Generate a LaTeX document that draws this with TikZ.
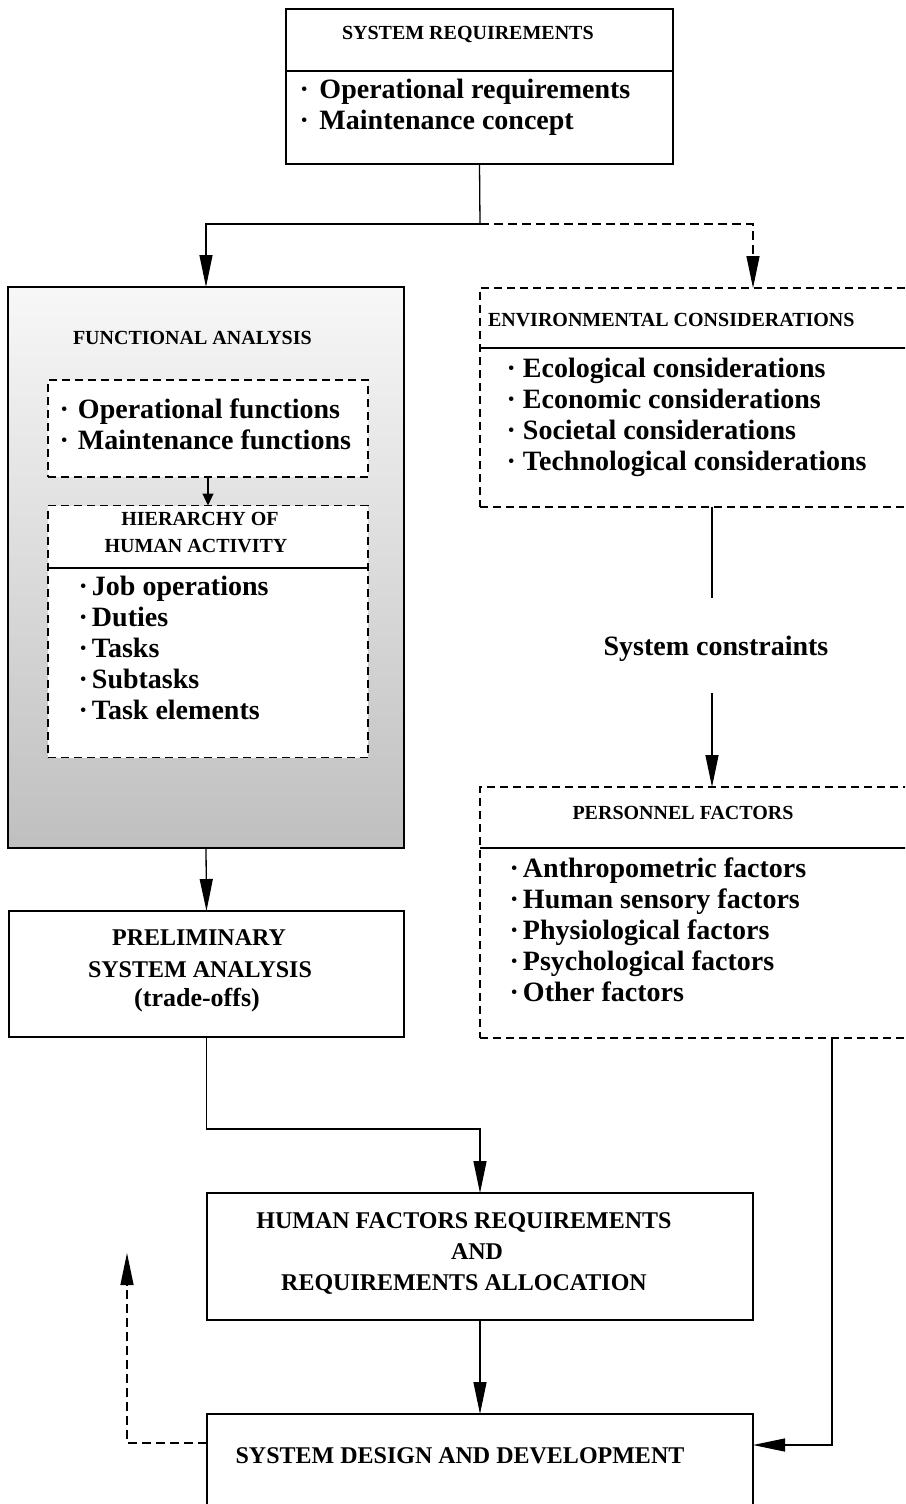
\documentclass[tikz,border=0pt]{standalone}
\usepackage{fontspec}
\setmainfont{Liberation Serif}
\usetikzlibrary{arrows.meta}
% bullet with a fixed advance before the item text
\newcommand\bul[1]{\makebox[#1pt][l]{·}}
\begin{document}
\begin{tikzpicture}[x=1pt,y=-1pt,
  box/.style={draw, line width=1.3pt, inner sep=0pt, outer sep=0pt},
  dbox/.style={draw, line width=1.2pt, dash pattern=on 8pt off 5pt, inner sep=0pt, outer sep=0pt},
  txt/.style={inner sep=0pt, outer sep=0pt, font=\bfseries\fontsize{28}{31}\selectfont},
  head/.style={inner sep=0pt, outer sep=0pt, font=\bfseries\fontsize{20}{24}\selectfont},
  big/.style={inner sep=0pt, outer sep=0pt, font=\bfseries\fontsize{24}{30}\selectfont},
  conn/.style={line width=1.3pt},
  arr/.style={conn, -{Triangle[length=32pt,width=13pt]}},
  sarr/.style={conn, -{Triangle[length=12pt,width=11pt]}},
  darr/.style={arr, dash pattern=on 9pt off 5pt},
]
\fill[white] (0,0) rectangle (905,1504);
\path[use as bounding box, clip] (0,0) rectangle (905,1504);

% ---------- system requirements ----------
\node[box, minimum width=387pt, minimum height=155pt] (sysreq) at (479.5,86.5) {};
\draw[conn] (sysreq.west |- 0,71) -- (sysreq.east |- 0,71);
\node[head, anchor=base west] (sysreqT) at (342,40) {SYSTEM REQUIREMENTS};
\node[txt, anchor=base west] (sysreq1) at (299.5,99) {\bul{20}Operational requirements};
\node[txt, anchor=base west] (sysreq2) at (299.5,129) {\bul{20}Maintenance concept};

% ---------- functional analysis ----------
\node[box, minimum width=396pt, minimum height=561pt,
      top color=white!97!black, middle color=black!16, bottom color=black!25] (fa) at (206,567.5) {};
\node[head, anchor=base west] (faT) at (73,344) {FUNCTIONAL ANALYSIS};

\node[dbox, fill=white, minimum width=320pt, minimum height=97pt] (fa1) at (208,428.5) {};
\node[txt, anchor=base west] (fa1a) at (59.5,418) {\bul{18.5}Operational functions};
\node[txt, anchor=base west] (fa1b) at (59.5,449) {\bul{18.5}Maintenance functions};

\node[dbox, fill=white, minimum width=320pt, minimum height=252pt] (fa2) at (208,631.5) {};
\node[head, anchor=base] (fa2T1) at (200,525) {HIERARCHY OF};
\node[head, anchor=base] (fa2T2) at (196,552) {HUMAN ACTIVITY};
\draw[conn, line width=1.2pt] (fa2.west |- 0,568) -- (fa2.east |- 0,568);
\foreach \t [count=\i from 0] in {Job operations, Duties, Tasks, Subtasks, Task elements}
  \node[txt, anchor=base west] (hier\i) at (78.5,595+31*\i) {\bul{13.5}\t};

\draw[sarr] (fa1.south) -- (fa2.north);

% ---------- preliminary system analysis ----------
\node[box, minimum width=395pt, minimum height=126pt] (prelim) at (206.5,974) {};
\node[big, anchor=base] (prelim1) at (199,945) {PRELIMINARY};
\node[big, anchor=base] (prelim2) at (200,977) {SYSTEM ANALYSIS};
\node[inner sep=0pt, font=\bfseries\fontsize{26}{30}\selectfont, anchor=base] (prelim3) at (197,1006) {(trade-offs)};

% ---------- human factors requirements ----------
\node[box, minimum width=546pt, minimum height=127pt] (hfr) at (480,1256.5) {};
\node[big, anchor=base] (hfr1) at (464,1228) {HUMAN FACTORS REQUIREMENTS};
\node[big, anchor=base] (hfr2) at (477,1259) {AND};
\node[big, anchor=base] (hfr3) at (464,1290) {REQUIREMENTS ALLOCATION};

% ---------- system design and development ----------
\node[box, minimum width=546pt, minimum height=180pt] (sdd) at (480,1504) {};
\node[big, anchor=base] (sddT) at (460,1463) {SYSTEM DESIGN AND DEVELOPMENT};

% ---------- environmental considerations ----------
\node[dbox, minimum width=480pt, minimum height=219pt] (env) at (720,397.5) {};
\node[head, anchor=base west] (envT) at (488,326) {ENVIRONMENTAL CONSIDERATIONS};
\draw[conn, line width=1.2pt] (env.west |- 0,348) -- (env.east |- 0,348);
\foreach \t [count=\i from 0] in {Ecological considerations, Economic considerations,
    Societal considerations, Technological considerations}
  \node[txt, anchor=base west] (envI\i) at (506.5,377+31*\i) {\bul{16.5}\t};

% ---------- system constraints ----------
\node[txt, minimum height=95pt, text depth=0pt] (sc) at (716,645.5) {System constraints};

% ---------- personnel factors ----------
\node[dbox, minimum width=480pt, minimum height=251pt] (pers) at (720,912.5) {};
\node[head, anchor=base] (persT) at (683,819) {PERSONNEL FACTORS};
\draw[conn, line width=1.2pt] (pers.west |- 0,848) -- (pers.east |- 0,848);
\foreach \t [count=\i from 0] in {Anthropometric factors, Human sensory factors,
    Physiological factors, Psychological factors, Other factors}
  \node[txt, anchor=base west] (persI\i) at (509.5,877+31*\i) {\bul{13.5}\t};

% ---------- connectors ----------
\coordinate (split) at (480,224);
\coordinate (bend) at (206.5,1129);
\coordinate (envout) at (712,507);
\coordinate (persout) at (832,1038);
\coordinate (fbtip) at (127,1253);

\draw[conn] (sysreq.south) -- (split);
\draw[arr] (split) -| (fa.north);
\draw[darr] (split) -| (hfr.east |- env.north);
\draw[arr] (fa.south) -- (prelim.north);
\draw[arr] (prelim.south) -- (bend) -| (hfr.north);
\draw[arr] (hfr.south) -- (sdd.north);
\draw[conn] (envout) -- (envout |- sc.north);
\draw[arr] (envout |- sc.south) -- (envout |- pers.north);
\draw[arr] (persout) |- (sdd.east |- 0,1445);
\draw[darr] (sdd.west |- 0,1443) -| (fbtip);
\end{tikzpicture}
\end{document}
